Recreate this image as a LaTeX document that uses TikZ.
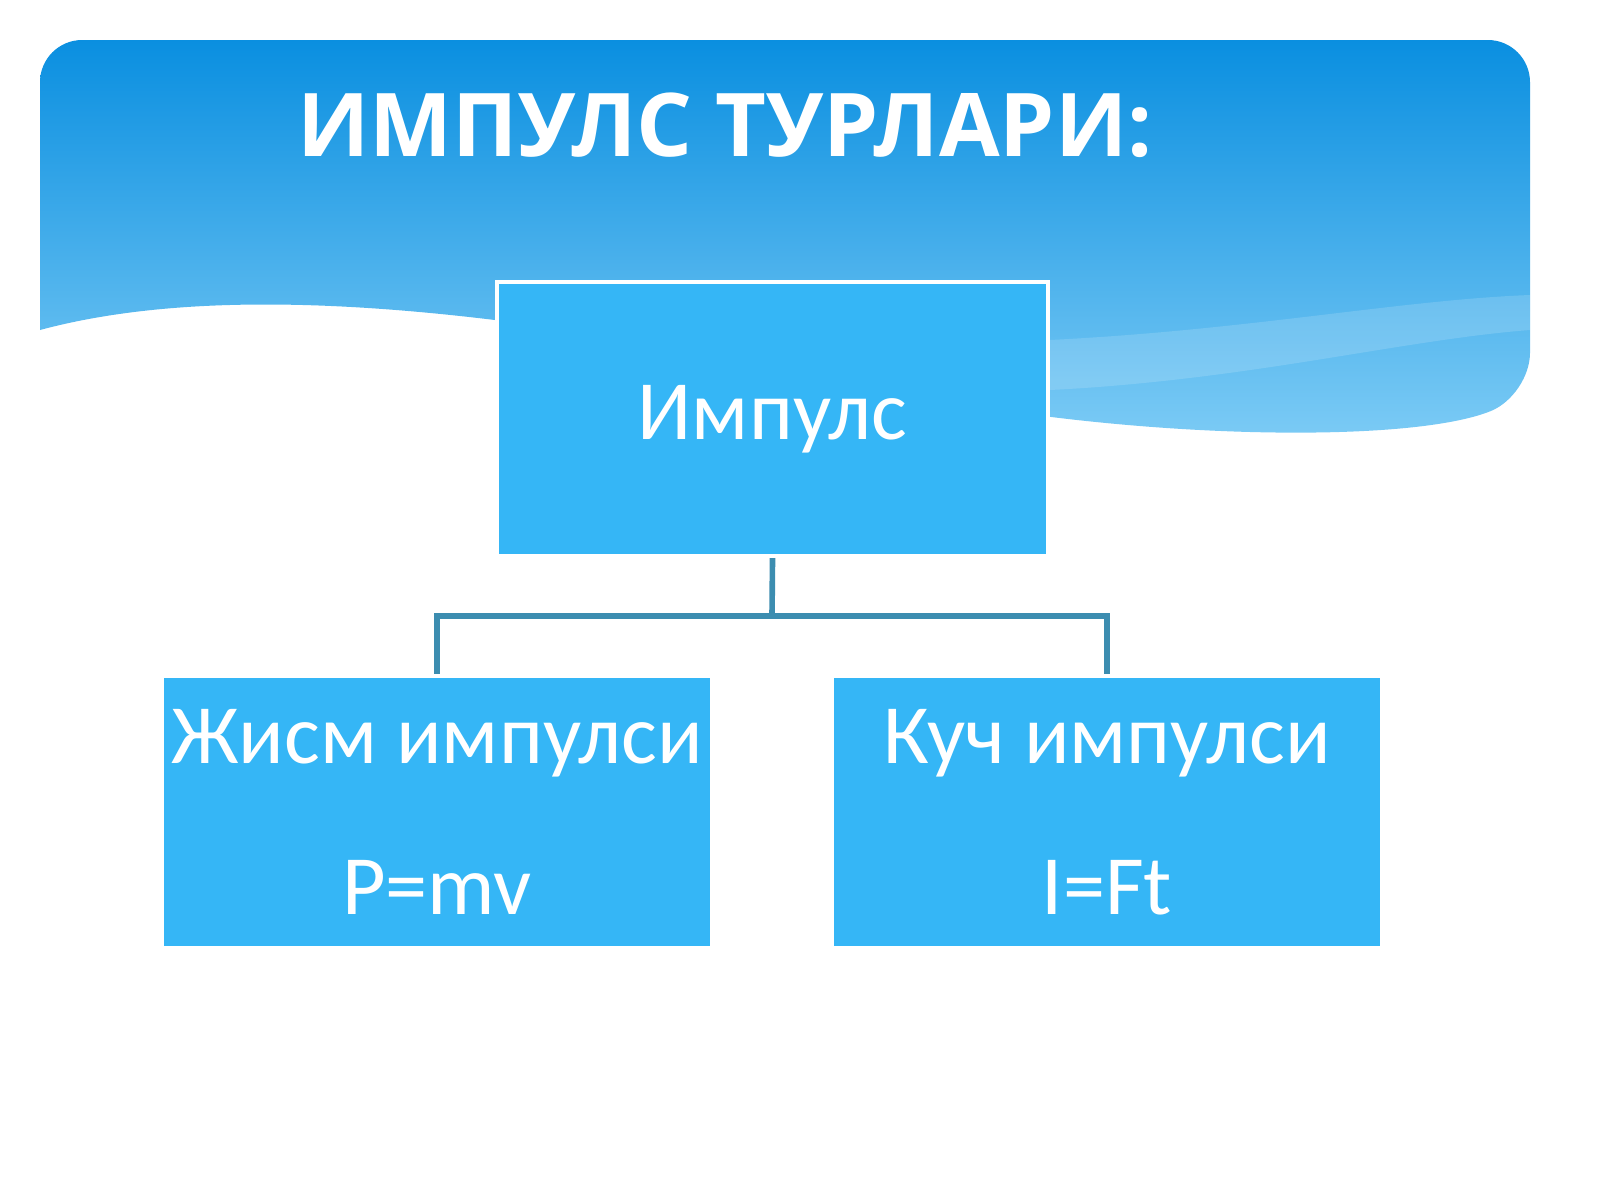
\documentclass[tikz,border=0pt]{standalone}
\usepackage{fontspec}
\setmainfont{Carlito}
\newfontfamily\titlefont{Open Sans}
\begin{document}
\begin{tikzpicture}[x=0.01cm,y=-0.01cm,
  box/.style={draw=white,line width=1.2pt,fill=boxblue,text=white,inner sep=0pt,align=center,font=\fontsize{24}{29}\selectfont},
  conn/.style={draw=linecol,line width=1.6pt}]
\definecolor{boxblue}{HTML}{35B6F6}
\definecolor{linecol}{HTML}{3C8DB0}
\definecolor{topblue}{HTML}{0A8FE0}
\definecolor{lowblue}{HTML}{7CCBF5}
\useasboundingbox (0,0) rectangle (1600,1200);
\fill[white] (0,0) rectangle (1600,1200);
\shade[top color=topblue,bottom color=lowblue,rounded corners=12]
  (40,330) -- (40,40) -- (1530,40) -- (1530,395) [sharp corners]
  .. controls (1420,440) and (1200,440) .. (1000,410)
  .. controls (700,350) and (300,260) .. (40,330) -- cycle;
\fill[white,opacity=0.15] (1050,340) .. controls (1250,330) and (1400,300) .. (1530,295)
  -- (1530,330) .. controls (1400,340) and (1250,380) .. (1050,390) -- cycle;
\node[text=white,font=\titlefont\bfseries\fontsize{25}{30}\selectfont] (title) at (725,125) {ИМПУЛС ТУРЛАРИ:};
\node[box,minimum width=5.51cm,minimum height=2.74cm] (top) at (772.5,419) {Импулс};
\node[box,minimum width=5.5cm,minimum height=2.72cm] (left) at (437,812)
  {Жисм импулси\\[14pt] P=mv};
\node[box,minimum width=5.5cm,minimum height=2.72cm] (right) at (1107,812)
  {Куч импулси\\[14pt] I=Ft};
\coordinate (j) at (772,616);
\draw[conn] (top.south) -- (j);
\draw[conn] (left.north) |- (j) -| (right.north);
\end{tikzpicture}
\end{document}
